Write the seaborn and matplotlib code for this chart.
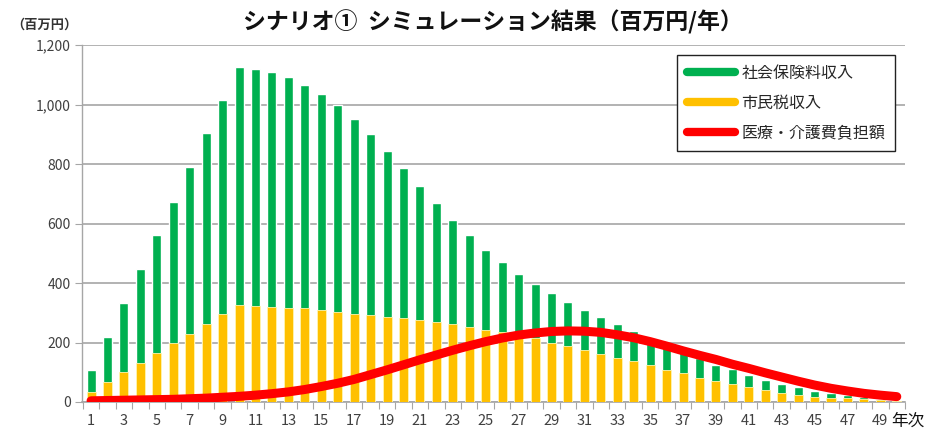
import numpy as np
import pandas as pd
import matplotlib
matplotlib.use("Agg")
import matplotlib.pyplot as plt
from matplotlib.lines import Line2D
from matplotlib.ticker import FuncFormatter, FixedLocator
import seaborn as sns

# ---- data ----
years = list(range(1, 51))
social_insurance = [72, 151, 231, 316, 396, 476, 560, 640, 718, 802,
                    797, 788, 774, 751, 725, 695, 655, 610, 558, 504,
                    452, 402, 352, 309, 269, 237, 206, 181, 165, 149,
                    135, 122, 114, 100, 90, 83, 73, 65, 56, 50,
                    42, 34, 31, 25, 18, 14, 11, 6, 3, 2]
citizen_tax = [34, 67, 101, 132, 166, 198, 229, 263, 297, 325,
               322, 320, 317, 315, 310, 302, 297, 292, 287, 283,
               275, 268, 261, 253, 243, 234, 225, 216, 200, 188,
               175, 163, 147, 137, 123, 109, 97, 82, 69, 60,
               50, 41, 30, 24, 18, 15, 12, 10, 7, 5]
care_cost = [4, 5, 6, 7, 8, 9, 11, 13, 16, 19,
             23, 28, 34, 42, 52, 63, 76, 92, 108, 125,
             142, 158, 174, 189, 203, 215, 225, 232, 237, 239,
             238, 234, 226, 216, 203, 188, 172, 157, 143, 127,
             113, 98, 84, 70, 57, 46, 37, 29, 23, 18]
series_names = ["社会保険料収入", "市民税収入", "医療・介護費負担額"]
y_ticks = [0, 200, 400, 600, 800, 1000, 1200]
title = "シナリオ①  シミュレーション結果（百万円/年）"
unit_label = "（百万円）"
x_label = "年次"

df = pd.DataFrame({
    "year": [str(y) for y in years],
    "social": social_insurance,
    "tax": citizen_tax,
    "cost": care_cost,
})
df["total"] = df["social"] + df["tax"]
df["pos"] = np.arange(len(df))

sns.set_theme(style="white")
plt.rcParams["font.family"] = ["Noto Sans CJK JP", "DejaVu Sans"]

GREEN = "#00B050"
YELLOW = "#FFC000"
RED = "#FF0000"
GRID = "#A6A6A6"

fig = plt.figure(figsize=(9.33, 4.33), dpi=100)
ax = fig.add_axes([0.0879, 0.0716, 0.970 - 0.0879, 0.896 - 0.0716])

sns.barplot(data=df, x="year", y="total", color=GREEN, saturation=1,
            width=0.55, ax=ax, zorder=2)
sns.barplot(data=df, x="year", y="tax", color=YELLOW, saturation=1,
            width=0.55, ax=ax, zorder=3, edgecolor="#FFF5B0", linewidth=0.6)
sns.lineplot(x=df["pos"], y=df["cost"], color=RED, linewidth=6.5,
             ax=ax, zorder=4, solid_capstyle="round")

ax.set_xlim(-0.55, 49.5)
ax.set_ylim(0, 1200)
ax.set_yticks(y_ticks)
ax.yaxis.set_major_formatter(FuncFormatter(lambda v, p: f"{int(v):,}"))
ax.set_xticks(df["pos"][::2])
ax.set_xticklabels(df["year"][::2])
ax.xaxis.set_minor_locator(FixedLocator(np.arange(-0.5, 50, 1)))
ax.tick_params(axis="x", which="major", length=0, labelsize=10.5,
               labelcolor="#404040", pad=9)
ax.tick_params(axis="x", which="minor", bottom=True, length=5,
               width=0.8, color=GRID, direction="out")
ax.tick_params(axis="y", which="major", left=True, length=5, width=0.8,
               color=GRID, labelsize=10, labelcolor="#404040", pad=3)
ax.set_xlabel("")
ax.set_ylabel("")

ax.grid(axis="y", color=GRID, linewidth=1.2, zorder=0)
ax.set_axisbelow(True)
for s in ["top", "right"]:
    ax.spines[s].set_visible(False)
ax.spines["left"].set_color(GRID)
ax.spines["left"].set_linewidth(1.0)
ax.spines["bottom"].set_color(GRID)
ax.spines["bottom"].set_linewidth(1.2)

handles = [Line2D([0], [0], color=GREEN, lw=6),
           Line2D([0], [0], color=YELLOW, lw=6),
           Line2D([0], [0], color=RED, lw=6, solid_capstyle="round")]
leg = fig.legend(handles, series_names, loc="upper right",
                 bbox_to_anchor=(0.959, 0.873), borderaxespad=0,
                 frameon=True, fancybox=False,
                 edgecolor="#222222", framealpha=1, fontsize=11.5,
                 handlelength=3.0, handletextpad=0.4, labelspacing=0.8,
                 borderpad=0.6)
leg.get_frame().set_linewidth(1.0)

fig.text(0.528, 0.949, title, ha="center", va="center", fontsize=16.5,
         fontweight="bold", color="#111111")
fig.text(0.012, 0.942, unit_label, ha="left", va="center", fontsize=9.5,
         fontweight="bold", color="#333333")
fig.text(0.955, 0.027, x_label, ha="left", va="center", fontsize=12,
         color="#111111")

fig.savefig("out.png", dpi=100, facecolor="white")
